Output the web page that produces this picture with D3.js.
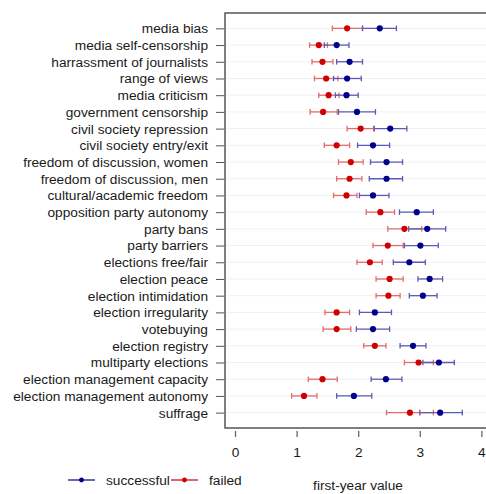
<!DOCTYPE html>
<html>
<head>
<meta charset="utf-8">
<script src="https://cdn.jsdelivr.net/npm/d3@7"></script>
<style>
  body { margin: 0; background: #fff; }
  text { font-family: "Liberation Sans", Arial, sans-serif; }
</style>
</head>
<body>
<svg id="chart"></svg>
<script>
// First-year values by indicator, successful vs failed, with intervals

const categories = [
    "media bias", "media self-censorship", "harrassment of journalists",
    "range of views", "media criticism", "government censorship",
    "civil society repression", "civil society entry/exit",
    "freedom of discussion, women", "freedom of discussion, men",
    "cultural/academic freedom", "opposition party autonomy", "party bans",
    "party barriers", "elections free/fair", "election peace",
    "election intimidation", "election irregularity", "votebuying",
    "election registry", "multiparty elections",
    "election management capacity", "election management autonomy", "suffrage"
];

const successMean = [2.35, 1.65, 1.86, 1.82, 1.81, 1.98, 2.52, 2.24, 2.46, 2.46, 2.24, 2.95,
    3.12, 3.01, 2.83, 3.16, 3.05, 2.27, 2.24, 2.89, 3.31, 2.45, 1.93, 3.33];
const successLo = [2.07, 1.45, 1.65, 1.60, 1.63, 1.68, 2.26, 1.99, 2.20, 2.18, 2.02, 2.67,
    2.82, 2.75, 2.57, 2.97, 2.83, 2.02, 1.97, 2.68, 3.05, 2.21, 1.65, 3.00];
const successHi = [2.62, 1.85, 2.07, 2.05, 2.00, 2.28, 2.79, 2.51, 2.72, 2.72, 2.50, 3.22,
    3.42, 3.30, 3.09, 3.37, 3.28, 2.54, 2.51, 3.10, 3.56, 2.71, 2.22, 3.69];

const failMean = [1.82, 1.36, 1.42, 1.48, 1.52, 1.43, 2.04, 1.65, 1.88, 1.86, 1.81, 2.36,
    2.75, 2.48, 2.19, 2.51, 2.49, 1.65, 1.65, 2.27, 2.98, 1.42, 1.12, 2.84];
const failLo = [1.58, 1.21, 1.25, 1.29, 1.36, 1.22, 1.82, 1.45, 1.68, 1.65, 1.60, 2.13,
    2.48, 2.24, 1.98, 2.29, 2.29, 1.46, 1.43, 2.09, 2.75, 1.19, 0.92, 2.46];
const failHi = [2.07, 1.50, 1.59, 1.67, 1.69, 1.66, 2.25, 1.86, 2.08, 2.06, 1.98, 2.59,
    3.03, 2.73, 2.39, 2.73, 2.68, 1.86, 1.88, 2.45, 3.22, 1.66, 1.33, 3.22];

const xTicks = [0, 1, 2, 3, 4];

const svgWidth = 486;
const svgHeight = 494;
const fontSize = "13.7px";

const svg = d3.select("#chart")
    .attr("width", svgWidth)
    .attr("height", svgHeight);

const plot = { left: 225, top: 13, bottom: 428, right: 496 };

const xScale = d3.scaleLinear().domain([0, 4]).range([235, 481.4]);
const yScale = d3.scalePoint()
    .domain(categories)
    .range([plot.top, plot.bottom])
    .padding(0.92);

const blueDot = "#00008b";
const blueBar = "#5a5ab8";
const redDot = "#d00000";
const redBar = "#e36b6b";

// faint row guides
svg.append("g")
    .selectAll("line")
    .data(categories)
    .join("line")
    .attr("x1", plot.left)
    .attr("x2", plot.right)
    .attr("y1", d => yScale(d))
    .attr("y2", d => yScale(d))
    .attr("stroke", "#f1f1f1")
    .attr("stroke-width", 1);

function drawSeries(mean, lo, hi, dotColor, barColor) {
    const rows = categories.map((c, i) => ({ c, m: mean[i], lo: lo[i], hi: hi[i] }));
    const g = svg.append("g");
    g.selectAll(".bar")
        .data(rows)
        .join("line")
        .attr("x1", d => xScale(d.lo))
        .attr("x2", d => xScale(d.hi))
        .attr("y1", d => yScale(d.c))
        .attr("y2", d => yScale(d.c))
        .attr("stroke", barColor)
        .attr("stroke-width", 1.3);
    ["lo", "hi"].forEach(k => {
        g.selectAll(".cap-" + k)
            .data(rows)
            .join("line")
            .attr("x1", d => xScale(d[k]))
            .attr("x2", d => xScale(d[k]))
            .attr("y1", d => yScale(d.c) - 2.8)
            .attr("y2", d => yScale(d.c) + 2.8)
            .attr("stroke", barColor)
            .attr("stroke-width", 1.3);
    });
    g.selectAll("circle")
        .data(rows)
        .join("circle")
        .attr("cx", d => xScale(d.m))
        .attr("cy", d => yScale(d.c))
        .attr("r", 3.1)
        .attr("fill", dotColor);
}

drawSeries(failMean, failLo, failHi, redDot, redBar);
drawSeries(successMean, successLo, successHi, blueDot, blueBar);

// box
svg.append("rect")
    .attr("x", plot.left)
    .attr("y", plot.top)
    .attr("width", plot.right - plot.left)
    .attr("height", plot.bottom - plot.top)
    .attr("fill", "none")
    .attr("stroke", "#555")
    .attr("stroke-width", 1.5);

// x axis
const xAxis = svg.append("g")
    .attr("transform", `translate(0, ${plot.bottom + 3})`)
    .call(d3.axisBottom(xScale).tickValues(xTicks).tickSize(6).tickPadding(10).tickFormat(d3.format("d")));
xAxis.select(".domain").remove();
xAxis.selectAll(".tick line").attr("stroke", "#666").attr("stroke-width", 1.3);
xAxis.selectAll(".tick text")
    .attr("font-size", fontSize)
    .attr("fill", "#1a1a1a")
    .style("font-family", "'Liberation Sans', Arial, sans-serif");

// y axis
const yAxis = svg.append("g")
    .attr("transform", `translate(${plot.left - 1}, 0)`)
    .call(d3.axisLeft(yScale).tickSize(8).tickPadding(8));
yAxis.select(".domain").remove();
yAxis.selectAll(".tick line").attr("stroke", "#555").attr("stroke-width", 1);
yAxis.selectAll(".tick text")
    .attr("font-size", fontSize)
    .attr("fill", "#1a1a1a")
    .style("font-family", "'Liberation Sans', Arial, sans-serif");

// x label
svg.append("text")
    .attr("x", 358)
    .attr("y", 490)
    .attr("text-anchor", "middle")
    .attr("font-size", fontSize)
    .attr("fill", "#1a1a1a")
    .text("first-year value");

// legend
const legendItems = [
    { label: "successful", x: 68, color: blueDot },
    { label: "failed", x: 171, color: redDot }
];
const legend = svg.append("g").attr("transform", "translate(0, 480)");
legendItems.forEach(item => {
    legend.append("line")
        .attr("x1", item.x).attr("x2", item.x + 27)
        .attr("y1", 0).attr("y2", 0)
        .attr("stroke", item.color)
        .attr("stroke-width", 1.2);
    legend.append("circle")
        .attr("cx", item.x + 13.5).attr("cy", 0)
        .attr("r", 2.4)
        .attr("fill", item.color);
    legend.append("text")
        .attr("x", item.x + 38)
        .attr("y", 5)
        .attr("font-size", fontSize)
        .attr("fill", "#1a1a1a")
        .text(item.label);
});
</script>
</body>
</html>
